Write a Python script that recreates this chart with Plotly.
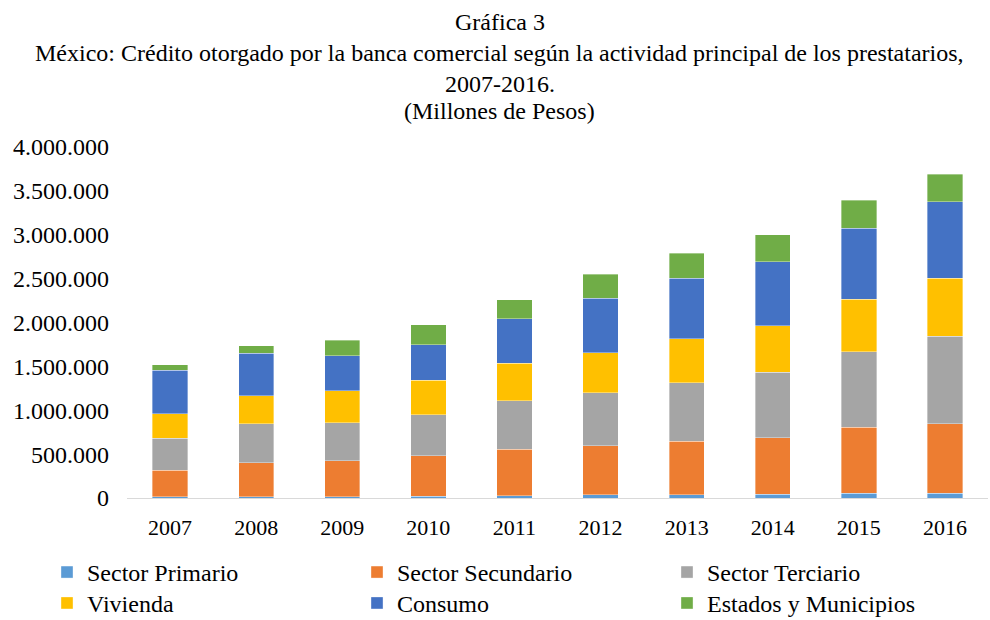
import plotly.graph_objects as go

years = ["2007", "2008", "2009", "2010", "2011", "2012", "2013", "2014", "2015", "2016"]

sector_primario = [12000, 14000, 15000, 18000, 27000, 38000, 38000, 41000, 57000, 57000]
sector_secundario = [305000, 389000, 408000, 462000, 528000, 560000, 609000, 648000, 750000, 792000]
sector_terciario = [365000, 443000, 434000, 469000, 553000, 602000, 667000, 746000, 862000, 994000]
vivienda = [278000, 320000, 366000, 392000, 427000, 453000, 503000, 526000, 597000, 660000]
consumo = [495000, 483000, 397000, 408000, 510000, 625000, 686000, 732000, 808000, 875000]
estados_municipios = [62000, 88000, 175000, 225000, 217000, 271000, 289000, 305000, 320000, 313000]

series_names = ["Sector Primario", "Sector Secundario", "Sector Terciario",
                "Vivienda", "Consumo", "Estados y Municipios"]
series_values = [sector_primario, sector_secundario, sector_terciario,
                 vivienda, consumo, estados_municipios]
series_colors = ["#5B9BD5", "#ED7D31", "#A5A5A5", "#FFC000", "#4472C4", "#70AD47"]
series_legend = ["legend", "legend", "legend", "legend2", "legend2", "legend2"]

title_lines = ["Gráfica 3",
               "México: Crédito otorgado por la banca comercial según la actividad principal de los prestatarios,",
               "2007-2016.",
               "(Millones de Pesos)"]

serif = "Liberation Serif, Times New Roman, serif"

fig = go.Figure()
for name, vals, col, lg in zip(series_names, series_values, series_colors, series_legend):
    fig.add_trace(go.Bar(
        x=years, y=vals, name=name, legend=lg,
        marker=dict(color=col, line=dict(color="rgba(255,255,255,0.6)", width=0.6)),
    ))

title_y = [1.356, 1.268, 1.179, 1.103]
annotations = []
for txt, yy in zip(title_lines, title_y):
    annotations.append(dict(
        text=txt, x=0.4332, xref="paper", xanchor="center",
        y=yy, yref="paper", yanchor="middle", showarrow=False,
        font=dict(family=serif, size=24, color="#000000"),
    ))

legend_style = dict(
    orientation="h",
    x=-0.0929, xanchor="left",
    yanchor="top",
    entrywidth=265, entrywidthmode="pixels",
    itemwidth=30,
    traceorder="normal",
    font=dict(family=serif, size=24, color="#000000"),
    bgcolor="rgba(0,0,0,0)",
)

fig.update_layout(
    barmode="stack",
    bargap=0.59,
    width=990, height=620,
    margin=dict(l=127, r=2, t=147, b=122, autoexpand=False),
    paper_bgcolor="white",
    plot_bgcolor="white",
    separators=",.",
    font=dict(family=serif, size=21, color="#000000"),
    annotations=annotations,
    showlegend=True,
    legend=dict(legend_style, y=-0.148),
    legend2=dict(legend_style, y=-0.236),
)

fig.update_xaxes(
    type="category",
    showgrid=False,
    showline=True, linecolor="#D9D9D9", linewidth=1,
    ticks="",
    ticklabelstandoff=10,
    tickfont=dict(family=serif, size=22, color="#000000"),
)
fig.update_yaxes(
    range=[0, 4000000],
    tickvals=[0, 500000, 1000000, 1500000, 2000000, 2500000, 3000000, 3500000, 4000000],
    tickformat=",d",
    showgrid=False,
    zeroline=False,
    showline=False,
    ticks="",
    ticklabelstandoff=17,
    tickfont=dict(family=serif, size=24, color="#000000"),
)

fig.write_html(
    "out.html",
    config={"displayModeBar": False},
    post_script="document.body.style.margin='0';document.body.style.overflow='hidden';",
)
